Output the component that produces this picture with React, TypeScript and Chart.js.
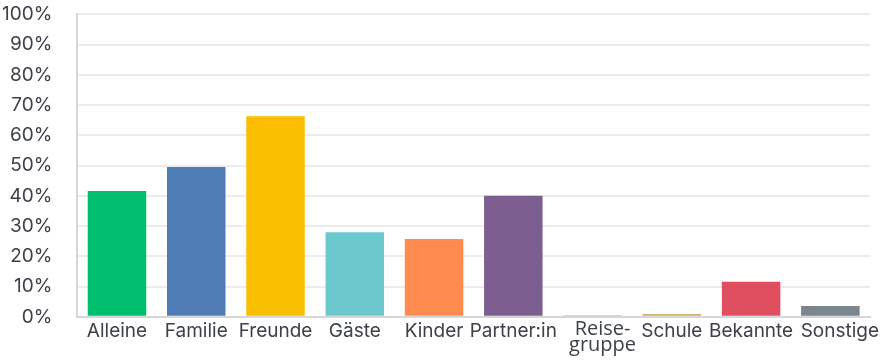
import React, { useEffect, useRef } from "react";
import { Chart, registerables } from "chart.js";

Chart.register(...registerables);

const categories: (string | string[])[] = [
  "Alleine", "Familie", "Freunde", "Gäste", "Kinder", "Partner:in",
  ["Reise-", "gruppe"], "Schule", "Bekannte", "Sonstige",
];
const values = [41.6, 49.5, 66.3, 28.0, 25.7, 40.0, 0.5, 0.9, 11.6, 3.6];
const colors = [
  "#00BF6F", "#507CB6", "#F9BE00", "#6BC9CD", "#FF8B4F",
  "#7D5E90", "#E98AA8", "#C9B46E", "#E04F5F", "#7A858C",
];
const yTicks = [0, 10, 20, 30, 40, 50, 60, 70, 80, 90, 100];

const NUDGE = "\u2002\u2002";

export default function App() {
  const ref = useRef<HTMLCanvasElement | null>(null);
  useEffect(() => {
    if (!ref.current) return;
    document.body.style.overflow = "hidden";
    const chart = new Chart(ref.current, {
      type: "bar",
      data: {
        labels: categories,
        datasets: [
          {
            data: values,
            backgroundColor: colors,
            borderWidth: 0,
            barPercentage: 0.82,
            categoryPercentage: 0.9,
          },
        ],
      },
      options: {
        animation: false,
        responsive: true,
        maintainAspectRatio: false,
        layout: { padding: { top: 0, right: 18, left: 0, bottom: 0 } },
        plugins: { legend: { display: false }, tooltip: { enabled: false } },
        scales: {
          y: {
            min: 0,
            max: 100,
            afterBuildTicks: (axis: any) => {
              axis.ticks = yTicks.map((v) => ({ value: v }));
            },
            ticks: {
              callback: (v: any) => v + "%",
              color: "#3d4148",
              font: { family: "Inter", size: 19, lineHeight: 1.2 },
              padding: 25,
            },
            grid: { color: "#ececec", lineWidth: 2, drawTicks: false },
            border: { color: "#d6d6d6", width: 2 },
          },
          x: {
            ticks: {
              callback: function (this: any, _v: any, i: number) {
                const l = categories[i];
                if (i === 6 && Array.isArray(l)) return l.map((s) => NUDGE + s);
                if (i === categories.length - 1) return NUDGE + l;
                return l;
              },
              color: "#3d4148",
              font: (ctx: any) =>
                ctx.index === 6
                  ? { family: "Open Sans", size: 20, lineHeight: 0.78 }
                  : { family: "Inter", size: 19, lineHeight: 0.95 },
              maxRotation: 0,
              autoSkip: false,
              padding: 5,
            },
            grid: { display: false, drawTicks: false },
            border: { color: "#d6d6d6", width: 2 },
          },
        },
      },
    });
    return () => chart.destroy();
  }, []);
  return (
    <div style={{ position: "absolute", left: -23, top: -22, width: 911, height: 380 }}>
      <canvas ref={ref} />
    </div>
  );
}
